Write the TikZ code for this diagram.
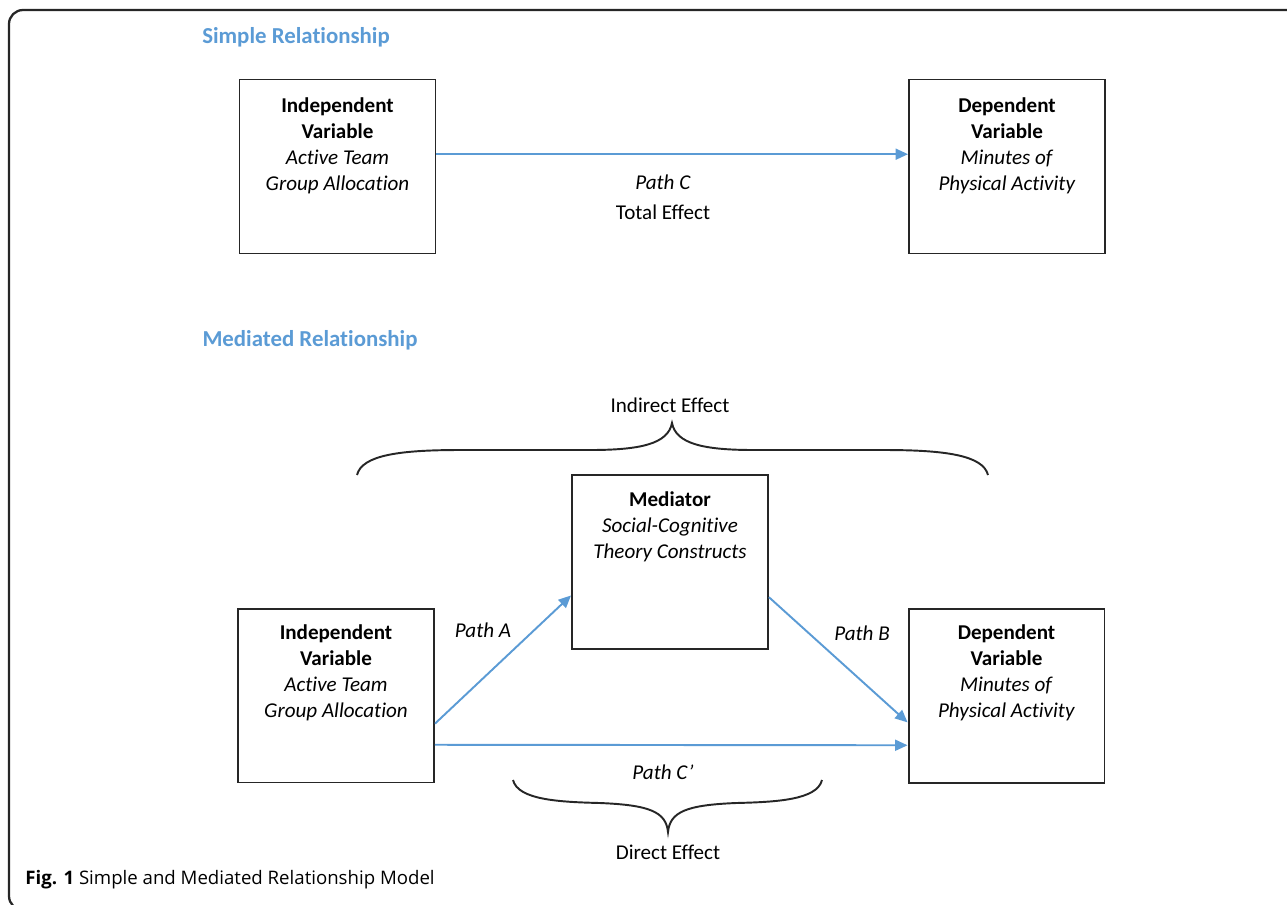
\documentclass[tikz,border=0pt]{standalone}
\usepackage{fontspec}
\setmainfont{Carlito}[Ligatures=CommonOff]
\newfontfamily\capfont{Open Sans}
\usetikzlibrary{positioning, arrows.meta, calc}
\definecolor{headblue}{HTML}{5B9BD5}
\definecolor{linkblue}{HTML}{5B9BD5}

\begin{document}
\begin{tikzpicture}[x=0.02cm, y=-0.02cm,
    var/.style={draw=black!85, line width=1.1pt, minimum width=3.92cm, minimum height=3.48cm, inner sep=0pt},
    vartext/.style={align=center, inner sep=0pt, font=\fontsize{12}{14.8}\selectfont},
    link/.style={draw=linkblue, line width=1.1pt, -{Triangle[length=0.25cm,width=0.22cm]}},
    heading/.style={text=headblue, font=\fontsize{13}{15}\selectfont\bfseries},
    note/.style={font=\fontsize{12}{14.8}\selectfont},
    brace/.style={draw=black!85, line width=1.1pt}]
    \useasboundingbox (0,0) rectangle (1287,904);

    % frame
    \draw[line width=1.3pt, black!85, rounded corners=0.28cm] (1300,10) -- (9,10) -- (9,910) -- (80,910);

    % simple relationship
    \node[heading] (simplehd) at (296,37) {Simple Relationship};
    \node[var] (sIV) at (337.5,166.5) {};
    \node[var] (sDV) at (1007,166.5) {};
    \node[vartext] (sIVt) at (337.5,146) {\textbf{Independent}\\\textbf{Variable}\\\textit{Active Team}\\\textit{Group Allocation}};
    \node[vartext] (sDVt) at (1007,146) {\textbf{Dependent}\\\textbf{Variable}\\\textit{Minutes of}\\\textit{Physical Activity}};
    \draw[link] ($(sIV.north east)!0.43!(sIV.south east)$) -- ($(sDV.north west)!0.43!(sDV.south west)$);
    \node[note] (pathc) at (663,182) {\textit{Path C}};
    \node[note] (total) at (663,212) {Total Effect};

    % mediated relationship
    \node[heading] (medhd) at (310,340) {Mediated Relationship};
    \node[var] (mIV) at (336,695.5) {};
    \node[var] (med) at (670,562) {};
    \node[var] (mDV) at (1006.5,696) {};
    \node[vartext] (mIVt) at (336,673) {\textbf{Independent}\\\textbf{Variable}\\\textit{Active Team}\\\textit{Group Allocation}};
    \node[vartext] (medt) at (670,527) {\textbf{Mediator}\\\textit{Social-Cognitive}\\\textit{Theory Constructs}};
    \node[vartext] (mDVt) at (1006.5,673) {\textbf{Dependent}\\\textbf{Variable}\\\textit{Minutes of}\\\textit{Physical Activity}};

    \draw[link] ($(mIV.north east)!0.66!(mIV.south east)$) -- ($(med.north west)!0.69!(med.south west)$);
    \draw[link] ($(med.north east)!0.70!(med.south east)$) -- ($(mDV.north west)!0.65!(mDV.south west)$);
    \draw[link] ($(mIV.north east)!0.78!(mIV.south east)$) -- ($(mDV.north west)!0.78!(mDV.south west)$);

    \node[note] (patha) at (483,630) {\textit{Path A}};
    \node[note] (pathb) at (862,633) {\textit{Path B}};
    \node[note] (pathcp) at (663,772) {\textit{Path C’}};

    % braces
    \node[note] (indirect) at (670,405) {Indirect Effect};
    \draw[brace] (357,475) .. controls (362,455) and (400,450) .. (460,450) -- (590,450)
        .. controls (640,450) and (668,444) .. (672,423)
        .. controls (676,444) and (704,450) .. (754,450) -- (884,450)
        .. controls (944,450) and (983,455) .. (988,475);
    \draw[brace] (513,780) .. controls (518,800) and (560,802) .. (600,803)
        .. controls (650,805) and (666,812) .. (668,832)
        .. controls (670,812) and (686,805) .. (736,803)
        .. controls (776,802) and (817,800) .. (822,780);
    \node[note] (direct) at (668,852) {Direct Effect};

    % caption
    \node[anchor=west, inner sep=0pt, font=\capfont\fontsize{10.6}{13}\selectfont] (caption) at (25,880) {\textbf{Fig. 1} Simple and Mediated Relationship Model};
\end{tikzpicture}
\end{document}
